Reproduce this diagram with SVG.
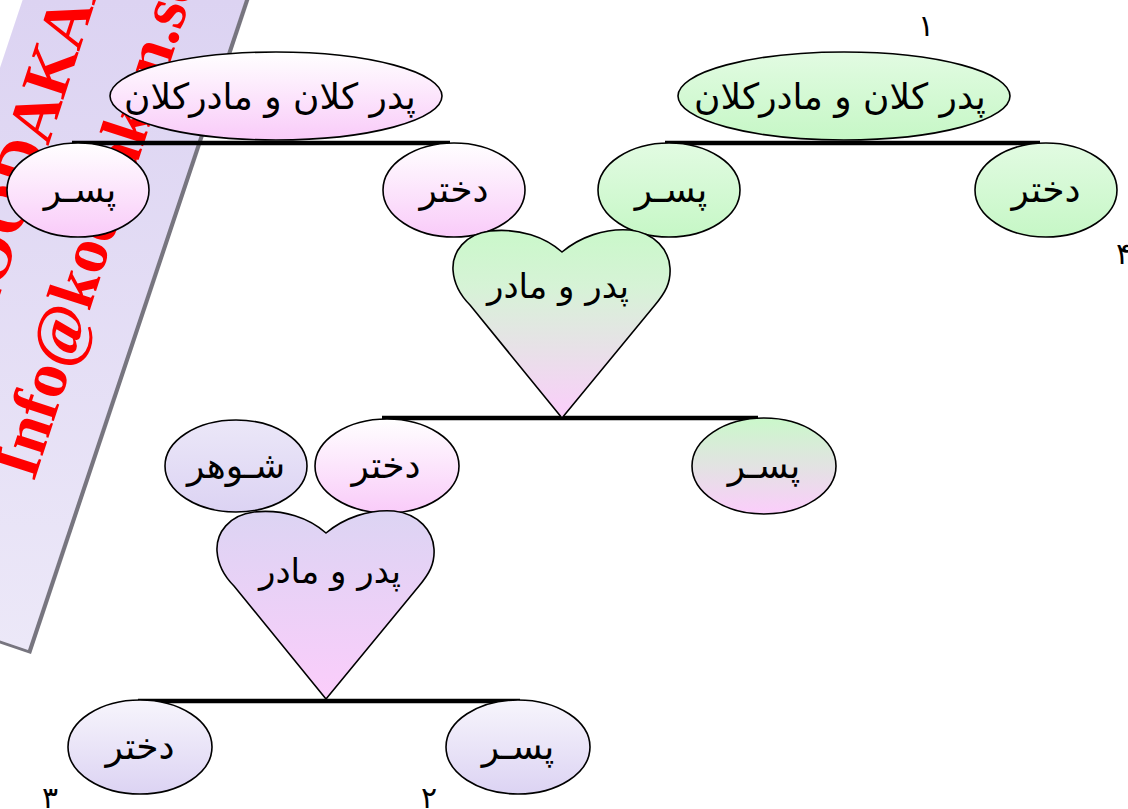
<svg xmlns="http://www.w3.org/2000/svg" width="1128" height="809" viewBox="0 0 1128 809">
<defs>
<linearGradient id="gPink" x1="0" y1="0" x2="0" y2="1"><stop offset="0" stop-color="#ffffff"/><stop offset="1" stop-color="#f9cbf9"/></linearGradient>
<linearGradient id="gGreen" x1="0" y1="0" x2="0" y2="1"><stop offset="0" stop-color="#e2fbe2"/><stop offset="1" stop-color="#c6f7c6"/></linearGradient>
<linearGradient id="gLav" x1="0" y1="0" x2="0" y2="1"><stop offset="0" stop-color="#f7f5fc"/><stop offset="1" stop-color="#dcd3f3"/></linearGradient>
<linearGradient id="gLav2" x1="0" y1="0" x2="0" y2="1"><stop offset="0" stop-color="#ebe7f8"/><stop offset="1" stop-color="#dcd3f3"/></linearGradient>
<linearGradient id="gGP" x1="0" y1="0" x2="0" y2="1"><stop offset="0" stop-color="#caf8ca"/><stop offset="1" stop-color="#fbcdfb"/></linearGradient>
<linearGradient id="gHeart1" x1="0" y1="0" x2="0" y2="1"><stop offset="0" stop-color="#caf8ca"/><stop offset="0.3" stop-color="#d6f3d6"/><stop offset="1" stop-color="#fbcdfb"/></linearGradient>
<linearGradient id="gHeart2" x1="0" y1="0" x2="0" y2="1"><stop offset="0" stop-color="#dcd4f3"/><stop offset="1" stop-color="#fbcdfb"/></linearGradient>
<linearGradient id="gBand" gradientUnits="userSpaceOnUse" x1="0" y1="0" x2="0" y2="650"><stop offset="0" stop-color="#dcd3f2"/><stop offset="1" stop-color="#ece8f8"/></linearGradient>
<path id="heart" d="M562 252 C545 237 520 228 490 231 C465 234 452 252 453 270 C454 285 460 295 470 305 L562 418 L655 305 C665 293 671 283 670 268 C669 250 655 233 630 230 C605 228 580 237 562 252 Z"/>
</defs>
<style>
.node{stroke:#000;stroke-width:1.6}
.lbl{font-family:"DejaVu Sans","Noto Sans",sans-serif;fill:#000;text-anchor:middle}
.big{font-size:36px}
.mid{font-size:36px}
.hrt{font-size:34px}
.num{font-family:"DejaVu Sans","Noto Sans",sans-serif;font-size:30px;fill:#000;text-anchor:middle}
.wm{font-family:"Liberation Serif",serif;font-weight:bold;font-size:66px;fill:#ff0000}
.conn line{stroke:#000;stroke-width:4.5}
</style>
<rect width="1128" height="809" fill="#ffffff"/>
<g id="watermark">
<polygon points="-169,587 31,654 273,-71 73,-138" fill="#77757f"/>
<polygon points="-172,583 28,650 270,-75 70,-142" fill="url(#gBand)"/>
<text class="wm" transform="translate(-14,338) rotate(-72)">KOODAKAN</text>
<text class="wm" transform="translate(34,482) rotate(-72)">Info@koodakan.se</text>
</g>
<g id="connectors" class="conn">
<line x1="72" y1="143" x2="450" y2="143"/>
<line x1="665" y1="143" x2="1040" y2="143"/>
<line x1="382" y1="418" x2="758" y2="418"/>
<line x1="138" y1="701" x2="520" y2="701"/>
</g>
<g id="gp-left"><ellipse class="node" cx="276" cy="96" rx="166" ry="44" fill="url(#gPink)"/><text class="lbl big" x="270" y="109">پدر کلان و مادرکلان</text></g>
<g id="son-left"><ellipse class="node" cx="78" cy="190" rx="71" ry="47" fill="url(#gPink)"/><text class="lbl mid" x="80" y="202">پسـر</text></g>
<g id="daughter-left"><ellipse class="node" cx="454" cy="190" rx="71" ry="47" fill="url(#gPink)"/><text class="lbl mid" x="454" y="202">دختر</text></g>
<g id="gp-right"><ellipse class="node" cx="844" cy="96" rx="166" ry="44" fill="url(#gGreen)"/><text class="lbl big" x="840" y="109">پدر کلان و مادرکلان</text></g>
<g id="son-right"><ellipse class="node" cx="669" cy="190" rx="71" ry="47" fill="url(#gGreen)"/><text class="lbl mid" x="671" y="202">پسـر</text></g>
<g id="daughter-right"><ellipse class="node" cx="1046" cy="190" rx="71" ry="47" fill="url(#gGreen)"/><text class="lbl mid" x="1046" y="202">دختر</text></g>
<g id="heart1"><use href="#heart" class="node" fill="url(#gHeart1)"/><text class="lbl hrt" x="558" y="298">پدر و مادر</text></g>
<g id="husband"><ellipse class="node" cx="236" cy="466" rx="71" ry="46" fill="url(#gLav2)"/><text class="lbl mid" x="236" y="478">شـوهر</text></g>
<g id="daughter-mid"><ellipse class="node" cx="387" cy="466" rx="72" ry="47" fill="url(#gPink)"/><text class="lbl mid" x="386" y="478">دختر</text></g>
<g id="son-mid"><ellipse class="node" cx="764" cy="466" rx="72" ry="48" fill="url(#gGP)"/><text class="lbl mid" x="764" y="478">پسـر</text></g>
<g id="heart2"><use href="#heart" class="node" fill="url(#gHeart2)" transform="translate(-236,281)"/><text class="lbl hrt" x="330" y="583">پدر و مادر</text></g>
<g id="daughter-bottom"><ellipse class="node" cx="140" cy="747" rx="72" ry="47" fill="url(#gLav)"/><text class="lbl mid" x="140" y="759">دختر</text></g>
<g id="son-bottom"><ellipse class="node" cx="518" cy="747" rx="72" ry="47" fill="url(#gLav)"/><text class="lbl mid" x="518" y="759">پسـر</text></g>
<g id="numbers">
<text class="num" x="926" y="36">۱</text>
<text class="num" x="1124" y="264">۴</text>
<text class="num" x="50" y="808">۳</text>
<text class="num" x="429" y="808">۲</text>
</g>
</svg>
